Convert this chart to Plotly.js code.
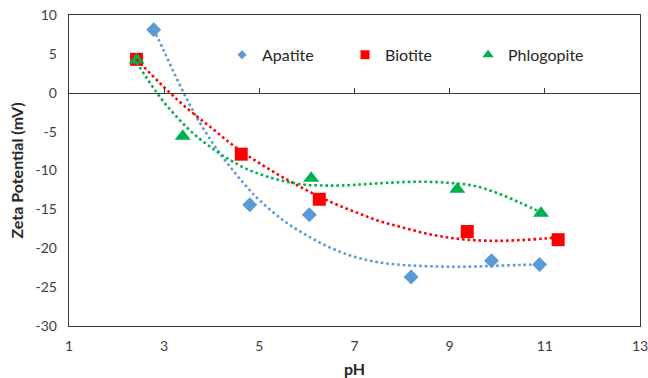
<!DOCTYPE html>
<html>
<head>
<meta charset="utf-8">
<script src="https://cdn.plot.ly/plotly-3.0.1.min.js"></script>
<style>html,body{margin:0;padding:0;background:#fff;}#chart{width:648px;height:378px;}</style>
</head>
<body>
<div id="chart"></div>
<script>
// Measured points
const apatitePH = [2.78, 4.80, 6.05, 8.19, 9.88, 10.89];
const apatiteZeta = [8.1, -14.4, -15.7, -23.7, -21.6, -22.1];
const biotitePH = [2.42, 4.62, 6.26, 9.37, 11.28];
const biotiteZeta = [4.3, -7.9, -13.7, -17.85, -18.9];
const phlogopitePH = [2.42, 3.39, 6.09, 9.16, 10.92];
const phlogopiteZeta = [4.2, -5.6, -11.0, -12.4, -15.5];

// Trendline points
const apatiteTrendPH = [2.78, 3.0, 3.25, 3.5, 3.75, 4.0, 4.25, 4.5, 4.75, 5.0, 5.5, 6.0, 6.5, 7.0, 7.5, 8.0, 8.5, 9.0, 9.5, 10.0, 10.5, 10.89];
const apatiteTrendZeta = [8.2, 5.3, 2.0, -1.1, -3.85, -6.3, -8.45, -10.4, -12.2, -13.8, -16.4, -18.35, -19.95, -21.1, -21.8, -22.15, -22.3, -22.38, -22.35, -22.25, -22.15, -22.1];
const biotiteTrendPH = [2.42, 3.0, 3.5, 4.0, 4.5, 5.0, 5.5, 6.0, 6.5, 7.0, 7.5, 8.0, 8.5, 9.0, 9.5, 10.0, 10.5, 11.0, 11.28];
const biotiteTrendZeta = [4.3, 0.7, -2.1, -4.55, -7.0, -9.05, -10.9, -12.55, -14.05, -15.3, -16.45, -17.3, -18.1, -18.65, -18.95, -19.05, -18.95, -18.75, -18.6];
const phlogopiteTrendPH = [2.42, 2.6, 2.8, 3.0, 3.25, 3.5, 3.75, 4.0, 4.25, 4.5, 4.75, 5.0, 5.25, 5.5, 5.75, 6.0, 6.5, 7.0, 7.5, 8.0, 8.5, 9.0, 9.5, 10.0, 10.5, 10.92];
const phlogopiteTrendZeta = [3.9, 2.2, 0.4, -1.25, -3.0, -4.6, -5.95, -7.1, -8.15, -9.05, -9.85, -10.45, -10.95, -11.35, -11.65, -11.85, -11.95, -11.85, -11.65, -11.5, -11.45, -11.6, -11.95, -12.9, -14.2, -15.4];

const seriesNames = ['Apatite', 'Biotite', 'Phlogopite'];
const xTickVals = [1, 3, 5, 7, 9, 11, 13];
const xTickText = ['1', '3', '5', '7', '9', '11', '13'];
const yTickVals = [-30, -25, -20, -15, -10, -5, 0, 5, 10];
const yTickText = ['-30', '-25', '-20', '-15', '-10', '-5', '0', '5', '10'];

const colors = ['#5B9BD5', '#FF0000', '#00B050'];
const symbols = ['diamond', 'square', 'triangle-up'];
const sizes = [11.5, 13, 14];
const legendSizes = [7, 9, 10];
const FONT = 'Lato, "Open Sans", sans-serif';

const pts = [[apatitePH, apatiteZeta], [biotitePH, biotiteZeta], [phlogopitePH, phlogopiteZeta]];
const trends = [[apatiteTrendPH, apatiteTrendZeta], [biotiteTrendPH, biotiteTrendZeta], [phlogopiteTrendPH, phlogopiteTrendZeta]];

const traces = [];
pts.forEach((p, i) => {
  traces.push({x: p[0], y: p[1], type: 'scatter', mode: 'markers', showlegend: false, hoverinfo: 'skip',
    marker: {symbol: symbols[i], size: sizes[i], color: colors[i], line: {width: 0}}});
});
trends.forEach((t, i) => {
  traces.push({x: t[0], y: t[1], type: 'scatter', mode: 'lines', showlegend: false, hoverinfo: 'skip',
    line: {color: colors[i], width: 2.6, dash: '2.6px,2.9px', shape: 'spline', smoothing: 1}});
});
seriesNames.forEach((n, i) => {
  traces.push({x: [null], y: [null], type: 'scatter', mode: 'markers', name: n, showlegend: true,
    marker: {symbol: symbols[i], size: legendSizes[i], color: colors[i], line: {width: 0}}});
});

const layout = {
  width: 648, height: 378,
  margin: {l: 69, r: 8, t: 15, b: 52, pad: 0},
  paper_bgcolor: '#fff', plot_bgcolor: '#fff',
  font: {family: FONT, color: '#404040', size: 14},
  showlegend: true,
  legend: {orientation: 'h', x: 0.268, xanchor: 'left', y: 0.872, yanchor: 'middle',
    font: {family: FONT, size: 16, color: '#262626'}, bgcolor: 'rgba(0,0,0,0)',
    entrywidth: 78, entrywidthmode: 'pixels', itemclick: false},
  xaxis: {range: [1, 13], tickvals: xTickVals, ticktext: xTickText, showgrid: false, zeroline: false,
    showline: true, mirror: true, linecolor: '#3a3a3a', linewidth: 1.3, ticks: '',
    ticklabelstandoff: 7, ticklabeloverflow: 'allow',
    tickfont: {family: FONT, size: 14, color: '#404040'},
    title: {text: '<b>pH</b>', font: {family: FONT, size: 16, color: '#262626'}, standoff: 10}},
  xaxis2: {range: [1, 13], overlaying: 'x', anchor: 'free', position: 0.75, side: 'bottom',
    tickvals: xTickVals, showticklabels: false, ticks: 'inside', ticklen: 5, tickwidth: 1.3, tickcolor: '#3a3a3a',
    showline: true, linecolor: '#3a3a3a', linewidth: 1.3, showgrid: false, zeroline: false},
  yaxis: {range: [-30, 10], tickvals: yTickVals, ticktext: yTickText, showgrid: false, zeroline: false,
    showline: true, mirror: true, linecolor: '#3a3a3a', linewidth: 1.3, ticks: '',
    ticklabelstandoff: 8, ticklabeloverflow: 'allow',
    tickfont: {family: FONT, size: 14, color: '#404040'},
    title: {text: '<b>Zeta Potential (mV)</b>', font: {family: FONT, size: 16, color: '#262626'}, standoff: 7}}
};

// Put one invisible trace on x2 so the overlay axis is rendered
traces.push({x: [null], y: [null], xaxis: 'x2', yaxis: 'y', type: 'scatter', mode: 'markers', showlegend: false, hoverinfo: 'skip'});

Plotly.newPlot('chart', traces, layout, {displayModeBar: false, staticPlot: true});
</script>
</body>
</html>
